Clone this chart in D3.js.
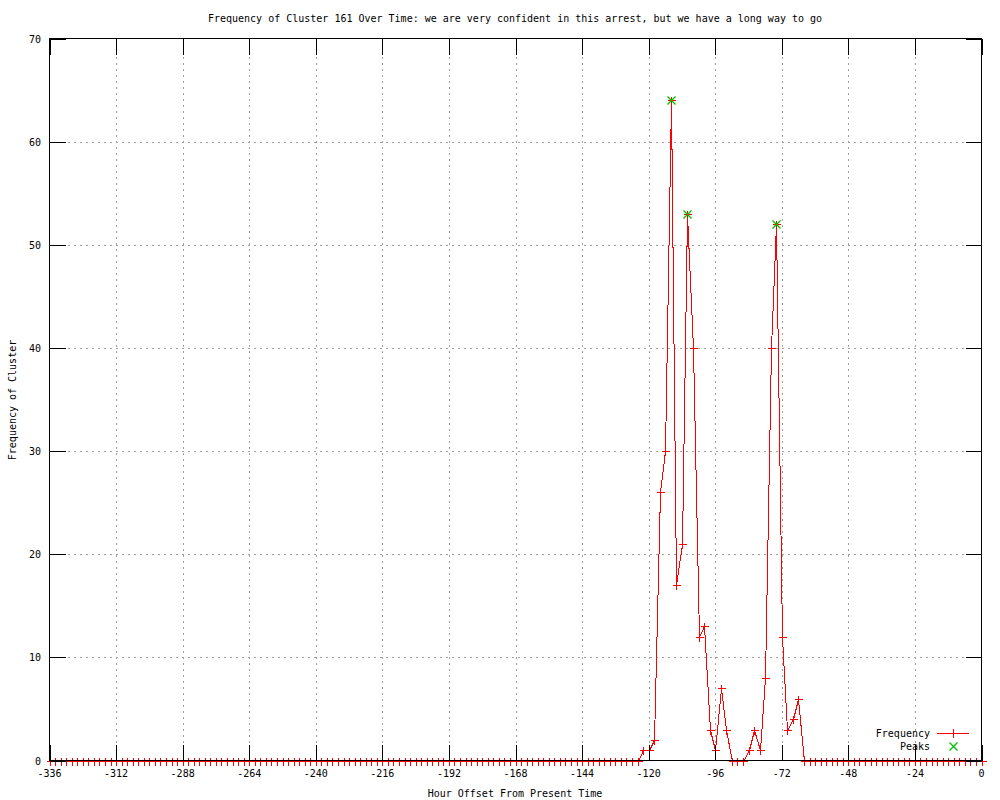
<!DOCTYPE html>
<html>
<head>
<meta charset="utf-8">
<script src="https://cdn.jsdelivr.net/npm/d3@7/dist/d3.min.js"></script>
<style>
  body { margin: 0; background: #fff; }
  svg text { font-family: "DejaVu Sans Mono", "Liberation Mono", monospace; font-size: 10px; fill: #000; }
</style>
</head>
<body>
<svg id="chart" width="1000" height="800"></svg>
<script>
var title = "Frequency of Cluster 161 Over Time: we are very confident in this arrest, but we have a long way to go";
var xLabel = "Hour Offset From Present Time";
var yLabel = "Frequency of Cluster";

// hour offsets, one sample every 2 hours
var hours = [
  -336,-334,-332,-330,-328,-326,-324,-322,-320,-318,-316,-314,-312,-310,-308,-306,-304,-302,-300,-298,
  -296,-294,-292,-290,-288,-286,-284,-282,-280,-278,-276,-274,-272,-270,-268,-266,-264,-262,-260,-258,
  -256,-254,-252,-250,-248,-246,-244,-242,-240,-238,-236,-234,-232,-230,-228,-226,-224,-222,-220,-218,
  -216,-214,-212,-210,-208,-206,-204,-202,-200,-198,-196,-194,-192,-190,-188,-186,-184,-182,-180,-178,
  -176,-174,-172,-170,-168,-166,-164,-162,-160,-158,-156,-154,-152,-150,-148,-146,-144,-142,-140,-138,
  -136,-134,-132,-130,-128,-126,-124,-122,-120,-118,-116,-114,-112,-110,-108,-106,-104,-102,-100,-98,
  -96,-94,-92,-90,-88,-86,-84,-82,-80,-78,-76,-74,-72,-70,-68,-66,-64,-62,-60,-58,
  -56,-54,-52,-50,-48,-46,-44,-42,-40,-38,-36,-34,-32,-30,-28,-26,-24,-22,-20,-18,
  -16,-14,-12,-10,-8,-6,-4,-2,0
];
var frequency = [
  0,0,0,0,0,0,0,0,0,0,0,0,0,0,0,0,0,0,0,0,
  0,0,0,0,0,0,0,0,0,0,0,0,0,0,0,0,0,0,0,0,
  0,0,0,0,0,0,0,0,0,0,0,0,0,0,0,0,0,0,0,0,
  0,0,0,0,0,0,0,0,0,0,0,0,0,0,0,0,0,0,0,0,
  0,0,0,0,0,0,0,0,0,0,0,0,0,0,0,0,0,0,0,0,
  0,0,0,0,0,0,0,1,1,2,26,30,64,17,21,53,40,12,13,3,
  1,7,3,0,0,0,1,3,1,8,40,52,12,3,4,6,0,0,0,0,
  0,0,0,0,0,0,0,0,0,0,0,0,0,0,0,0,0,0,0,0,
  0,0,0,0,0,0,0,0,0
];
var peakHours = [-112, -106, -74];
var peakValues = [64, 53, 52];

var xTicks = [-336,-312,-288,-264,-240,-216,-192,-168,-144,-120,-96,-72,-48,-24,0];
var yTicks = [0,10,20,30,40,50,60,70];

var pLeft = 49.5, pRight = 981.5, pTop = 38.5, pBottom = 760.5;
var tickLen = 16;

var svg = d3.select("#chart");
var x = d3.scaleLinear().domain([-336, 0]).range([pLeft, pRight]);
var y = d3.scaleLinear().domain([0, 70]).range([pBottom, pTop]);

// grid
var grid = svg.append("g").attr("stroke", "#a0a0a0").attr("stroke-dasharray", "2,4")
  .attr("shape-rendering", "crispEdges");
grid.selectAll("line.gx").data(xTicks.slice(1, -1)).enter().append("line")
  .attr("x1", function(d){ return Math.round(x(d)) + 0.5; })
  .attr("x2", function(d){ return Math.round(x(d)) + 0.5; })
  .attr("y1", pTop).attr("y2", pBottom);
grid.selectAll("line.gy").data(yTicks.slice(1, -1)).enter().append("line")
  .attr("y1", function(d){ return Math.round(y(d)) + 0.5; })
  .attr("y2", function(d){ return Math.round(y(d)) + 0.5; })
  .attr("x1", pLeft).attr("x2", pRight);

// frequency line
var pts = hours.map(function(h, i){ return [h, frequency[i]]; });
var line = d3.line()
  .x(function(d){ return Math.round(x(d[0])) + 0.5; })
  .y(function(d){ return Math.round(y(d[1])) + 0.5; });
svg.append("path").datum(pts).attr("d", line)
  .attr("fill", "none").attr("stroke", "#ff0000").attr("stroke-width", 1)
  .attr("shape-rendering", "crispEdges");

function plus(g, cx, cy, col) {
  g.append("path").attr("d", "M" + (cx - 4) + "," + cy + "H" + (cx + 4) + "M" + cx + "," + (cy - 4) + "V" + (cy + 4))
    .attr("stroke", col).attr("fill", "none").attr("shape-rendering", "crispEdges");
}
function cross(g, cx, cy, col) {
  g.append("path").attr("d", "M" + (cx - 4) + "," + (cy - 4) + "L" + (cx + 4) + "," + (cy + 4) +
      "M" + (cx - 4) + "," + (cy + 4) + "L" + (cx + 4) + "," + (cy - 4))
    .attr("stroke", col).attr("stroke-width", 1.3).attr("fill", "none");
}

var marks = svg.append("g");
pts.forEach(function(d){
  plus(marks, Math.round(x(d[0])) + 0.5, Math.round(y(d[1])) + 0.5, "#ff0000");
});
var peakG = svg.append("g");
peakHours.forEach(function(h, i){
  cross(peakG, Math.round(x(h)) + 0.5, Math.round(y(peakValues[i])) + 0.5, "#00c000");
});

// border + ticks (mirrored)
var axisG = svg.append("g").attr("stroke", "#000").attr("shape-rendering", "crispEdges");
axisG.append("rect").attr("x", pLeft).attr("y", pTop).attr("width", pRight - pLeft).attr("height", pBottom - pTop)
  .attr("fill", "none");
xTicks.forEach(function(t){
  var px = Math.round(x(t)) + 0.5;
  axisG.append("line").attr("x1", px).attr("x2", px).attr("y1", pBottom).attr("y2", pBottom - tickLen);
  axisG.append("line").attr("x1", px).attr("x2", px).attr("y1", pTop).attr("y2", pTop + tickLen);
});
yTicks.forEach(function(t){
  var py = Math.round(y(t)) + 0.5;
  axisG.append("line").attr("y1", py).attr("y2", py).attr("x1", pLeft).attr("x2", pLeft + tickLen);
  axisG.append("line").attr("y1", py).attr("y2", py).attr("x1", pRight).attr("x2", pRight - tickLen);
});

// tick labels
svg.selectAll("text.xt").data(xTicks).enter().append("text")
  .attr("x", function(d){ return x(d); }).attr("y", 777)
  .attr("text-anchor", "middle").text(function(d){ return String(d); });
svg.selectAll("text.yt").data(yTicks).enter().append("text")
  .attr("x", 41).attr("y", function(d){ return y(d) + 4; })
  .attr("text-anchor", "end").text(function(d){ return String(d); });

// titles
svg.append("text").attr("x", 515).attr("y", 22).attr("text-anchor", "middle").text(title);
svg.append("text").attr("x", 515).attr("y", 797).attr("text-anchor", "middle").text(xLabel);
svg.append("text").attr("transform", "translate(16,400) rotate(-90)").attr("text-anchor", "middle").text(yLabel);

// legend
var lg = svg.append("g");
lg.append("text").attr("x", 930).attr("y", 737).attr("text-anchor", "end").text("Frequency");
lg.append("rect").attr("x", 937).attr("y", 733).attr("width", 32).attr("height", 1).attr("fill", "#ff0000");
lg.append("rect").attr("x", 953).attr("y", 729).attr("width", 1).attr("height", 9).attr("fill", "#ff0000");
lg.append("text").attr("x", 930).attr("y", 750).attr("text-anchor", "end").text("Peaks");
cross(lg, 953.5, 746.5, "#00c000");
</script>
</body>
</html>
